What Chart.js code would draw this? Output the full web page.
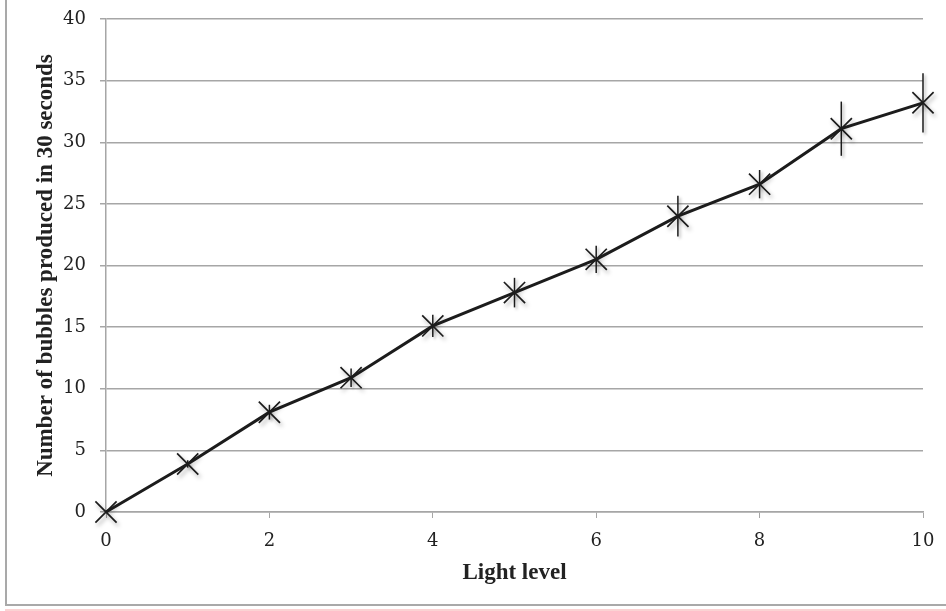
<!DOCTYPE html>
<html>
<head>
<meta charset="utf-8">
<title>Bubbles vs light level</title>
<script src="https://cdn.jsdelivr.net/npm/chart.js@4.4.1/dist/chart.umd.min.js"></script>
<style>
  html, body { margin: 0; padding: 0; background: #fff; }
  body { width: 946px; height: 611px; position: relative; overflow: hidden; }
  #chart { position: absolute; left: 0; top: 0; }
  .frame { position: absolute; left: 5px; top: -4px; width: 960px; height: 610px; border-left: 2px solid #a9a9a9; border-bottom: 2px solid #a9a9a9; box-sizing: border-box; }
  .strip { position: absolute; left: 5px; top: 609px; width: 960px; height: 2px; background: #fbd3d3; }
</style>
</head>
<body>
<canvas id="chart" width="946" height="611"></canvas>
<div class="frame"></div>
<div class="strip"></div>
<script>
// values
var lightLevels = [0, 1, 2, 3, 4, 5, 6, 7, 8, 9, 10];
var bubbles = [0, 3.9, 8.1, 10.9, 15.1, 17.8, 20.5, 24.0, 26.6, 31.1, 33.2];
var errors = [0, 0.3, 0.6, 0.75, 0.9, 1.2, 1.1, 1.65, 1.15, 2.2, 2.4];
var xTitle = 'Light level';
var yTitle = 'Number of bubbles produced in 30 seconds';

(function() {
  'use strict';

  var gridColor = '#a6a6a6';
  var inkColor = '#1c1c1c';
  var tickFont = { family: '"DejaVu Serif", serif', size: 18 };
  var titleFont = { family: '"Liberation Serif", serif', size: 23, weight: 'bold' };

  function points() {
    return lightLevels.map(function(x, i) { return { x: x, y: bubbles[i] }; });
  }

  var errorBars = {
    id: 'errorBars',
    beforeDatasetsDraw: function(chart) {
      var ctx = chart.ctx;
      var xs = chart.scales.x;
      var ys = chart.scales.y;
      ctx.save();
      ctx.strokeStyle = inkColor;
      ctx.lineWidth = 1.5;
      ctx.shadowColor = 'rgba(0,0,0,0.3)';
      ctx.shadowBlur = 3;
      ctx.shadowOffsetX = 2;
      ctx.shadowOffsetY = 2;
      lightLevels.forEach(function(x, i) {
        if (!errors[i]) return;
        var px = xs.getPixelForValue(x);
        ctx.beginPath();
        ctx.moveTo(px, ys.getPixelForValue(bubbles[i] + errors[i]));
        ctx.lineTo(px, ys.getPixelForValue(bubbles[i] - errors[i]));
        ctx.stroke();
      });
      ctx.restore();
    },
    beforeDatasetDraw: function(chart, args) {
      if (args.index !== 1) return;
      var ctx = chart.ctx;
      ctx.save();
      ctx.shadowColor = 'rgba(0,0,0,0.35)';
      ctx.shadowBlur = 4;
      ctx.shadowOffsetX = 2;
      ctx.shadowOffsetY = 3;
    },
    afterDatasetDraw: function(chart, args) {
      if (args.index !== 1) return;
      chart.ctx.restore();
    }
  };

  new Chart(document.getElementById('chart'), {
    type: 'scatter',
    data: {
      datasets: [
        { data: points(), showLine: true, borderColor: inkColor, borderWidth: 3, pointRadius: 0, tension: 0, clip: false },
        { data: points(), showLine: false, pointStyle: 'crossRot', pointRadius: 15, borderColor: inkColor, borderWidth: 1.7, backgroundColor: inkColor, clip: false }
      ]
    },
    options: {
      responsive: false,
      animation: false,
      devicePixelRatio: 1,
      layout: { padding: { left: 8, right: 23, top: 19, bottom: 0 } },
      plugins: { legend: { display: false }, tooltip: { enabled: false } },
      scales: {
        x: {
          type: 'linear', min: 0, max: 10,
          afterFit: function(scale) { scale.height = 99; scale.paddingLeft = 0; scale.paddingRight = 0; },
          ticks: { stepSize: 2, color: '#222', font: tickFont, padding: 13, maxRotation: 0 },
          grid: { drawOnChartArea: false, color: gridColor, tickLength: 6, lineWidth: 1 },
          border: { color: gridColor, width: 1.5 },
          title: { display: true, text: xTitle, color: '#222', font: titleFont, padding: { top: 0, bottom: 24 } }
        },
        y: {
          min: 0, max: 40,
          afterFit: function(scale) { scale.width = 98; scale.paddingTop = 0; scale.paddingBottom = 0; },
          ticks: { stepSize: 5, color: '#222', font: tickFont, padding: 14 },
          grid: { color: gridColor, tickLength: 6, lineWidth: 1.5 },
          border: { color: gridColor, width: 1.5 },
          title: { display: true, text: yTitle, color: '#222', font: titleFont, padding: { top: 24, bottom: 0 } }
        }
      }
    },
    plugins: [errorBars]
  });
})();
</script>
</body>
</html>
